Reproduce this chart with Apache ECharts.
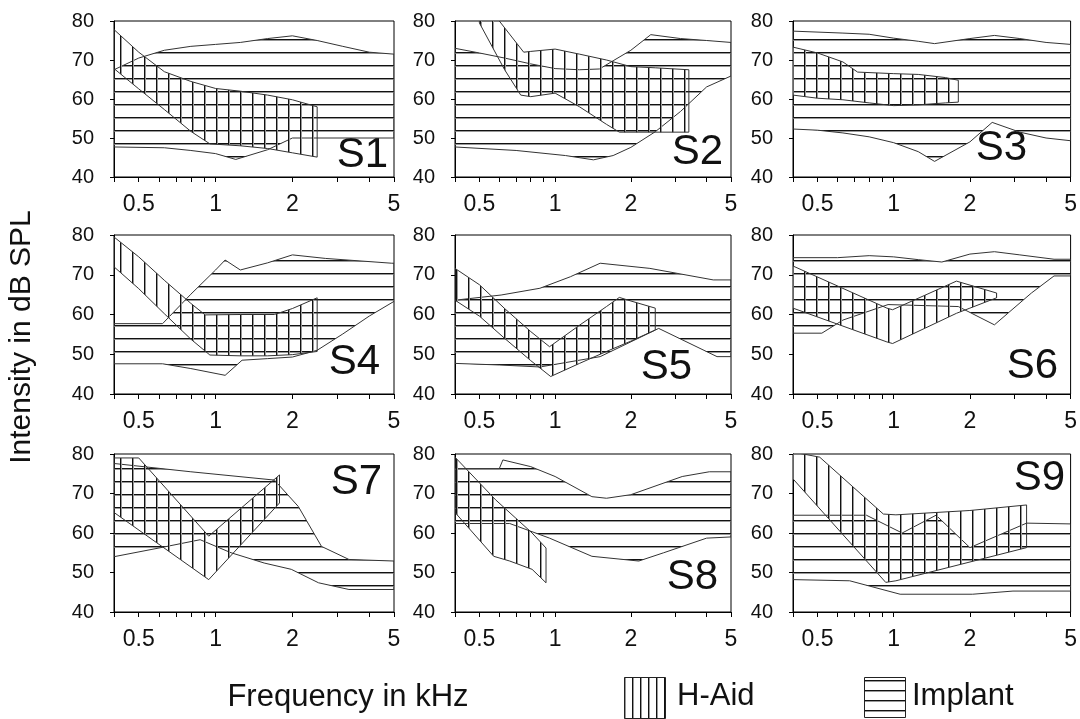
<!DOCTYPE html>
<html><head><meta charset="utf-8">
<script src="https://cdn.jsdelivr.net/npm/echarts@6/dist/echarts.min.js"></script>
<style>html,body{margin:0;padding:0;background:#fff}#c{width:1080px;height:719px}</style>
</head><body><div id="c"></div>
<script>
// ---- data: [frequency kHz, dB SPL] ----
const subjects = ['S1','S2','S3','S4','S5','S6','S7','S8','S9'];
const xLabels = [0.5, 1, 2, 5];
const xTicks = [0.4, 0.5, 0.6, 0.7, 0.8, 0.9, 1, 2, 3, 4, 5];

const s1HaidHi = [[0.4,77.8],[0.5,72],[0.63,67],[0.8,64.5],[1,62.7],[1.25,62],[1.6,61],[2,59.8],[2.5,58]];
const s1HaidLo = [[0.4,67.8],[0.5,62.6],[0.63,57.3],[0.8,51.7],[0.95,48.5],[1.25,48],[1.6,47.3],[2,46.2],[2.5,45.1]];
const s1ImplHi = [[0.4,67.5],[0.5,70.5],[0.63,72.5],[0.8,73.5],[1,74],[1.25,74.5],[1.6,75.5],[2,76.2],[2.5,75],[3.15,73.5],[4,72],[5,71.5]];
const s1ImplLo = [[0.4,47.7],[0.63,47.5],[0.8,46.8],[1,46],[1.2,44.5],[1.6,47],[2,50],[5,50]];

const s2HaidHi = [[0.5,84],[0.6,80],[0.75,72],[0.8,72.2],[1,72.8],[1.25,71.5],[1.6,70],[2,68.3],[2.5,68],[3.4,67.5]];
const s2HaidLo = [[0.5,79.5],[0.63,67.5],[0.73,61],[0.8,60.6],[1,61.5],[1.25,58],[1.6,53.5],[1.8,51.5],[3.4,51.5]];
const s2ImplHi = [[0.4,73],[0.5,71.8],[0.63,70.5],[0.8,69],[1,67.8],[1.25,67.5],[1.5,67.7],[1.7,69.8],[2,72.5],[2.4,76.5],[3.15,75.5],[4,75],[5,74.5]];
const s2ImplLo = [[0.4,47.7],[0.7,46.8],[1.1,45.5],[1.42,44.4],[1.7,45.5],[2,47.6],[2.5,51.6],[3.15,56.8],[4,63.1],[5,65.9]];

const s3HaidHi = [[0.4,73.3],[0.5,71.8],[0.63,69.5],[0.72,66.9],[1,66.5],[1.25,66.3],[1.6,65.5],[1.8,64.8]];
const s3HaidLo = [[0.4,61],[0.5,60.2],[0.63,59.8],[0.8,59],[1,58.3],[1.25,58.5],[1.6,59],[1.8,59.2]];
const s3ImplHi = [[0.4,77.4],[0.63,76.9],[0.8,76.6],[1,75.6],[1.25,74.8],[1.45,74.2],[2,75.5],[2.5,76.3],[3.15,75.5],[4,74.5],[5,74]];
const s3ImplLo = [[0.4,52.3],[0.5,52],[0.63,51.3],[0.8,50.3],[1,48.8],[1.25,46.5],[1.45,44],[2,49],[2.45,54],[3.15,51.5],[4,50],[5,49.3]];

const s4HaidHi = [[0.4,79.5],[0.5,74.5],[0.63,68.6],[0.8,62.8],[0.91,59.9],[1.25,60],[1.7,60],[2,61.5],[2.5,64.2]];
const s4HaidLo = [[0.4,72],[0.5,66.5],[0.63,60.2],[0.8,53.8],[0.95,49.8],[1.25,49.6],[1.6,49.6],[2,49.9],[2.5,50.7]];
const s4ImplHi = [[0.4,57.7],[0.62,57.7],[0.8,65.1],[1,71.2],[1.09,73.7],[1.25,71.2],[1.6,73],[2,75],[2.7,74.1],[4.9,72.9],[5,72.9]];
const s4ImplLo = [[0.4,47.6],[0.62,47.6],[0.8,46.4],[1.09,44.7],[1.27,48.5],[1.6,48.9],[2,49.3],[2.5,51],[3.15,55.1],[4,59.6],[5,63.3]];

const s5HaidHi = [[0.4,71.6],[0.5,67.5],[0.63,61.5],[0.8,55.7],[0.95,51.9],[1.25,57.3],[1.6,62],[1.8,64.3],[2,63.4],[2.5,61.6]];
const s5HaidLo = [[0.4,63.6],[0.5,59.6],[0.63,54],[0.8,48.4],[0.96,44.4],[1.25,47.7],[1.6,50.7],[2,53.3],[2.5,56.1]];
const s5ImplHi = [[0.4,63.6],[0.61,64.9],[0.87,66.6],[1.15,69.5],[1.51,72.9],[2.38,71.6],[4.25,68.7],[5,68.7]];
const s5ImplLo = [[0.4,47.7],[0.6,47.3],[0.87,46.8],[1.51,49.4],[2.58,56.5],[4.4,49.4],[5,49.4]];

const s6HaidHi = [[0.4,72.2],[0.94,61.6],[0.99,61.2],[1.77,68.4],[2.55,65.4]];
const s6HaidLo = [[0.4,61.6],[0.94,53.1],[0.99,52.7],[1.77,60.3],[2,61.6],[2.55,64.2]];
const s6ImplHi = [[0.4,74.3],[0.6,74.3],[0.8,74.8],[1,74.5],[1.25,73.8],[1.55,73.2],[2,75.2],[2.5,75.8],[3.15,75],[4.3,73.9],[5,73.9]];
const s6ImplLo = [[0.4,55.3],[0.52,55.3],[0.63,58.6],[0.95,62.5],[1.8,62],[2.5,57.4],[3.5,65.4],[4.3,69.7],[5,69.7]];

const s7HaidHi = [[0.4,79],[0.5,79],[0.94,59.2],[1.78,74.7]];
const s7HaidLo = [[0.4,65.2],[0.94,48.2],[1.78,67.6]];
const s7ImplHi = [[0.4,77.6],[0.8,75.5],[1.7,73.4],[2.11,66.7],[2.6,56.6],[3.33,53.3],[5,52.9]];
const s7ImplLo = [[0.4,54],[0.6,56.2],[0.87,58.3],[1.15,55],[1.55,52.4],[1.98,50.8],[2.53,47.4],[3.33,45.7],[5,45.7]];

const s8HaidHi = [[0.4,79.2],[0.58,68.4],[0.81,60],[0.92,56.2]];
const s8HaidLo = [[0.4,65.2],[0.57,54.1],[0.66,52.9],[0.81,50.8],[0.92,47.4]];
const s8ImplHi = [[0.4,76.3],[0.6,76.3],[0.62,78.5],[0.8,76.8],[1,74.3],[1.4,69.2],[1.6,68.8],[2,69.7],[3.2,74.3],[4.1,75.5],[5,75.5]];
const s8ImplLo = [[0.4,62.4],[0.66,62.4],[0.95,58.7],[1.4,54.1],[2.15,52.9],[2.7,55],[4,58.7],[5,59]];

const s9HaidHi = [[0.4,80.5],[0.51,79.2],[0.91,64.8],[1.02,64.6],[2,65.7],[3.35,67.1]];
const s9HaidLo = [[0.4,73.7],[0.93,47.5],[1.02,47.9],[3.35,56.3]];
const s9ImplHi = [[0.4,64.5],[0.78,64.5],[1.08,60],[1.47,64.5],[2,56.3],[3.35,62.5],[5,62.3]];
const s9ImplLo = [[0.4,48.2],[0.67,47.9],[1.06,44.5],[2.05,44.5],[2.96,45.3],[5,45.3]];

const haidHi = [s1HaidHi,s2HaidHi,s3HaidHi,s4HaidHi,s5HaidHi,s6HaidHi,s7HaidHi,s8HaidHi,s9HaidHi];
const haidLo = [s1HaidLo,s2HaidLo,s3HaidLo,s4HaidLo,s5HaidLo,s6HaidLo,s7HaidLo,s8HaidLo,s9HaidLo];
const implHi = [s1ImplHi,s2ImplHi,s3ImplHi,s4ImplHi,s5ImplHi,s6ImplHi,s7ImplHi,s8ImplHi,s9ImplHi];
const implLo = [s1ImplLo,s2ImplLo,s3ImplLo,s4ImplLo,s5ImplLo,s6ImplLo,s7ImplLo,s8ImplLo,s9ImplLo];

// ---- layout ----
const colLeft = [114, 455, 793], colWidth = [280, 276, 278];
const rowTop = [21, 235, 454], rowHeight = [156, 159, 158];
const labelPos = [[388,155],[723,152],[1027,148],[380,362],[692,367],[1058,366],[382,482],[718,577],[1065,478]];

function makePattern(w, h, vertical) {
  const c = document.createElement('canvas');
  c.width = w; c.height = h;
  const ctx = c.getContext('2d');
  ctx.fillStyle = '#111';
  if (vertical) { ctx.fillRect(0, 0, 1, h); ctx.fillStyle = '#999'; ctx.fillRect(1, 0, 1, h); }
  else { ctx.fillRect(0, 0, w, 1); ctx.fillStyle = '#999'; ctx.fillRect(0, 1, w, 1); }
  return { image: c, repeat: 'repeat' };
}
const vPat = makePattern(12, 8, true);
const hPat = makePattern(8, 13, false);
const vPatLeg = makePattern(8, 8, true);
const hPatLeg = makePattern(8, 10, false);

const FONT = "'Liberation Sans', Arial, sans-serif";
const grids = [], xAxes = [], yAxes = [], series = [], graphics = [];

function band(i, hi, lo, fill, name) {
  const pts = hi.concat(lo.slice().reverse());
  return {
    type: 'custom', name: name, xAxisIndex: i, yAxisIndex: i, silent: true, animation: false,
    data: pts, encode: { x: 0, y: 1 },
    renderItem: function (params, api) {
      if (params.dataIndex !== 0) return null;
      const cs = params.coordSys;
      return {
        type: 'polygon',
        shape: { points: pts.map(function (p) { return api.coord(p); }) },
        style: { fill: fill, stroke: '#333', lineWidth: 1 },
        clipPath: { type: 'rect', shape: { x: cs.x, y: cs.y, width: cs.width, height: cs.height } }
      };
    }
  };
}

for (let i = 0; i < 9; i++) {
  const r = Math.floor(i / 3), c = i % 3;
  grids.push({ left: colLeft[c], top: rowTop[r], width: colWidth[c], height: rowHeight[r],
    show: true, borderColor: '#000', borderWidth: 1, backgroundColor: 'transparent' });
  xAxes.push({ type: 'log', gridIndex: i, min: 0.4, max: 5, logBase: 10,
    axisLine: { show: true, lineStyle: { color: '#000', width: 1 } },
    axisTick: { show: true, length: 5, customValues: xTicks, lineStyle: { color: '#000' } },
    minorTick: { show: false }, splitLine: { show: false },
    axisLabel: { customValues: xLabels, margin: 16, color: '#111', fontSize: 23, fontFamily: FONT,
      formatter: function (v) { return String(v); } } });
  yAxes.push({ type: 'value', gridIndex: i, min: 40, max: 80, interval: 10,
    axisLine: { show: true, lineStyle: { color: '#000', width: 1 } },
    axisTick: { show: true, length: 4, lineStyle: { color: '#000' } },
    splitLine: { show: false },
    axisLabel: { margin: 20, color: '#111', fontSize: 20, fontFamily: FONT } });
  series.push(band(i, implHi[i], implLo[i], hPat, 'Implant'));
  series.push(band(i, haidHi[i], haidLo[i], vPat, 'H-Aid'));
  graphics.push({ type: 'text', x: labelPos[i][0], y: labelPos[i][1],
    style: { text: subjects[i], font: "42px 'Liberation Sans Narrow', 'Liberation Sans', sans-serif",
      fill: '#111', align: 'right', verticalAlign: 'middle' } });
}

graphics.push({ type: 'text', x: 22, y: 337, rotation: Math.PI / 2,
  style: { text: 'Intensity in dB SPL', font: '30px ' + FONT, fill: '#111', align: 'center', verticalAlign: 'middle' } });
graphics.push({ type: 'text', x: 348, y: 697,
  style: { text: 'Frequency in kHz', font: '31px ' + FONT, fill: '#111', align: 'center', verticalAlign: 'middle' } });
graphics.push({ type: 'rect', shape: { x: 624.5, y: 677.5, width: 41, height: 41 },
  style: { fill: vPatLeg, stroke: '#222', lineWidth: 1 } });
graphics.push({ type: 'text', x: 677, y: 696,
  style: { text: 'H-Aid', font: '31px ' + FONT, fill: '#111', align: 'left', verticalAlign: 'middle' } });
graphics.push({ type: 'rect', shape: { x: 864.5, y: 677.5, width: 41, height: 40 },
  style: { fill: hPatLeg, stroke: '#222', lineWidth: 1 } });
graphics.push({ type: 'text', x: 912, y: 696,
  style: { text: 'Implant', font: '31px ' + FONT, fill: '#111', align: 'left', verticalAlign: 'middle' } });

const chart = echarts.init(document.getElementById('c'), null, { renderer: 'canvas' });
chart.setOption({
  animation: false, backgroundColor: '#fff',
  grid: grids, xAxis: xAxes, yAxis: yAxes, series: series, graphic: graphics
});
</script></body></html>
